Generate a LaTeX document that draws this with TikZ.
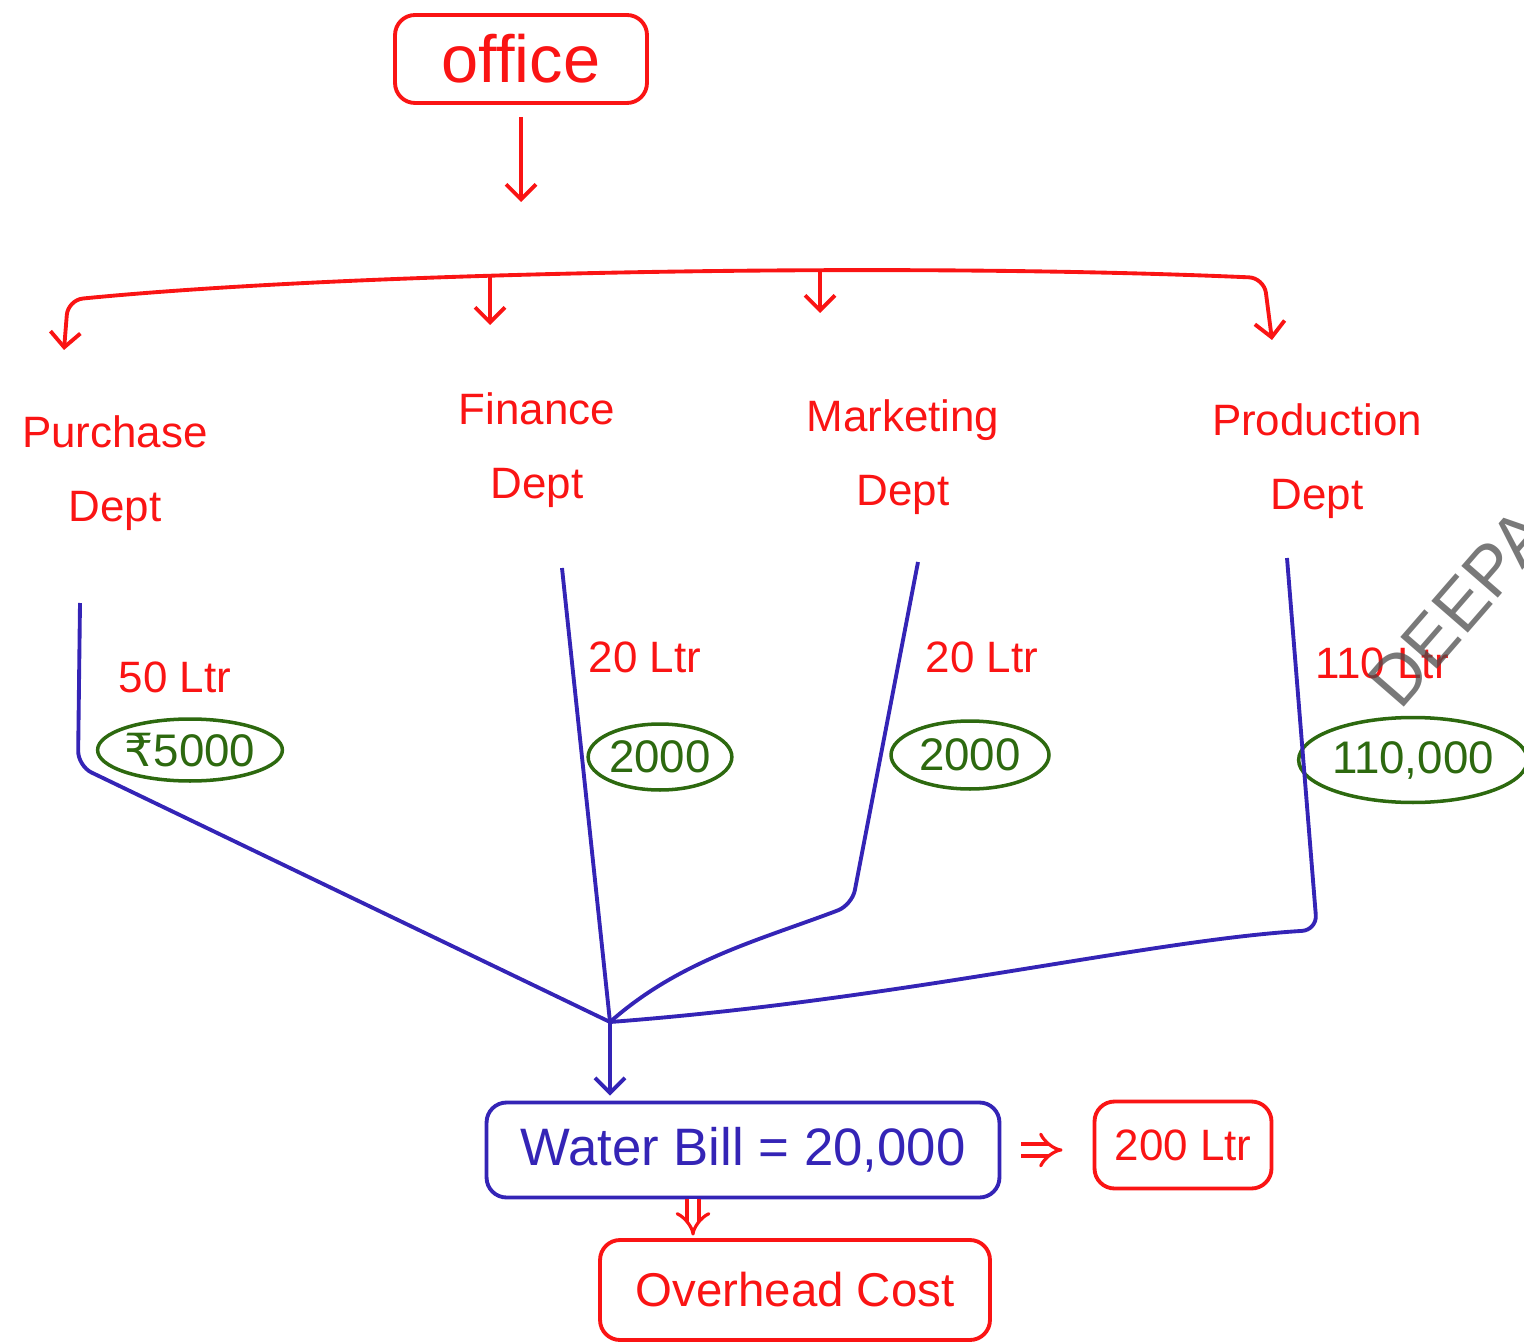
\documentclass[tikz,border=0pt]{standalone}
\usepackage{fontspec}
\setmainfont{Liberation Sans}
\newfontfamily\symfont{DejaVu Sans}
\usetikzlibrary{arrows.meta,shapes.geometric}

\definecolor{penred}{RGB}{250,20,20}
\definecolor{penblue}{RGB}{52,36,182}
\definecolor{pengreen}{RGB}{45,105,15}

\begin{document}
\begin{tikzpicture}[
  x=0.02cm, y=-0.02cm,
  redbox/.style={draw=penred, text=penred, line width=2.2pt, rounded corners=4mm, align=center},
  bluebox/.style={draw=penblue, text=penblue, line width=2.2pt, rounded corners=4mm, align=center},
  dept/.style={text=penred, align=center, font=\fontsize{25}{42}\selectfont},
  litre/.style={text=penred, font=\fontsize{25}{30}\selectfont},
  cost/.style={ellipse, draw=pengreen, text=pengreen, line width=2pt, inner sep=0pt, font=\fontsize{26}{30}\selectfont},
  redarr/.style={draw=penred, line width=2.2pt, -{Straight Barb[length=3mm,width=6mm]}},
  blueline/.style={draw=penblue, line width=2.2pt, rounded corners=3mm},
  dblarr/.style={draw=penred, line width=1.8pt, double distance=5pt, -{Implies}}
]
\clip (0,0) rectangle (1524,1344);

% top
\node[redbox, minimum width=5.04cm, minimum height=1.76cm, font=\fontsize{38}{40}\selectfont] (office) at (521,59) {office};
\coordinate (oarr) at (521,202);
\draw[redarr, shorten <=2.4mm] (office.south) -- (oarr);

% bracket over the departments
\coordinate (a-pur) at (64,350);
\coordinate (a-prd) at (1272,340);
\coordinate (b-fin) at (490,276);
\coordinate (a-fin) at (490,325);
\coordinate (b-mkt) at (820,269);
\coordinate (a-mkt) at (820,313);
\draw[redarr, {Straight Barb[length=3mm,width=6mm]}-{Straight Barb[length=3mm,width=6mm]}, rounded corners=3mm]
  (a-pur) -- (68,300) .. controls (350,272) and (900,262) .. (1264,278) -- (a-prd);
\draw[redarr] (b-fin) -- (a-fin);
\draw[redarr] (b-mkt) -- (a-mkt);

\node[dept] (pur) at (115,473) {Purchase\\Dept};
\node[dept] (fin) at (537,450) {Finance\\Dept};
\node[dept] (mkt) at (903,457) {Marketing\\Dept};
\node[dept] (prd) at (1317,461) {Production\\Dept};

% litres and costs
\node[litre] (l-pur) at (175,677) {50 Ltr};
\node[litre] (l-fin) at (645,657) {20 Ltr};
\node[litre] (l-mkt) at (982,657) {20 Ltr};
\node[litre] (l-prd) at (1382,663) {110 Ltr};

\node[cost, minimum width=3.2cm, minimum height=1.24cm] (c-pur) at (190,750) {{\symfont ₹}5000};
\node[cost, minimum width=2.7cm, minimum height=1.32cm] (c-fin) at (660,757) {2000};
\node[cost, minimum width=3.16cm, minimum height=1.36cm] (c-mkt) at (970,755) {2000};
\node[cost, minimum width=4.3cm, minimum height=1.7cm] (c-prd) at (1413,760) {110,000};

% blue lines into the bill
\coordinate (t-pur) at (80,603);
\coordinate (t-fin) at (562,568);
\coordinate (t-mkt) at (918,562);
\coordinate (t-prd) at (1287,558);
\coordinate (join) at (610,1022);

\draw[blueline] (t-pur) -- (78,766) -- (join);
\draw[blueline] (t-fin) -- (join);
\draw[blueline] (t-mkt) -- (852,905) .. controls (760,940) and (680,960) .. (join);
\draw[blueline] (t-prd) -- (1317,930) .. controls (1150,940) and (900,1000) .. (join);

\node[bluebox, minimum width=10.26cm, minimum height=1.9cm, font=\fontsize{30}{32}\selectfont] (wb) at (743,1150) {Water Bill = 20,000};
\node[redbox, minimum width=3.54cm, minimum height=1.74cm, font=\fontsize{25}{30}\selectfont] (ltr) at (1183,1145) {200 Ltr};
\node[redbox, minimum width=7.8cm, minimum height=2cm, font=\fontsize{27}{30}\selectfont] (ovh) at (795,1290) {Overhead Cost};

\draw[draw=penblue, line width=2.2pt, -{Straight Barb[length=3mm,width=6mm]}, shorten >=1mm] (join) -- (join |- wb.north);
\draw[dblarr, shorten <=4mm, shorten >=6mm] (wb.east) -- (wb.east -| ltr.west);
\draw[dblarr, shorten >=0.5mm] ([xshift=-1cm]wb.south) -- ([xshift=-1cm]wb.south |- ovh.north);

% watermark
\node[text=black!70, opacity=0.75, rotate=49, anchor=base west, font=\fontsize{40}{40}\selectfont] (mark) at (1396,716) {DEEPA};
\end{tikzpicture}
\end{document}
